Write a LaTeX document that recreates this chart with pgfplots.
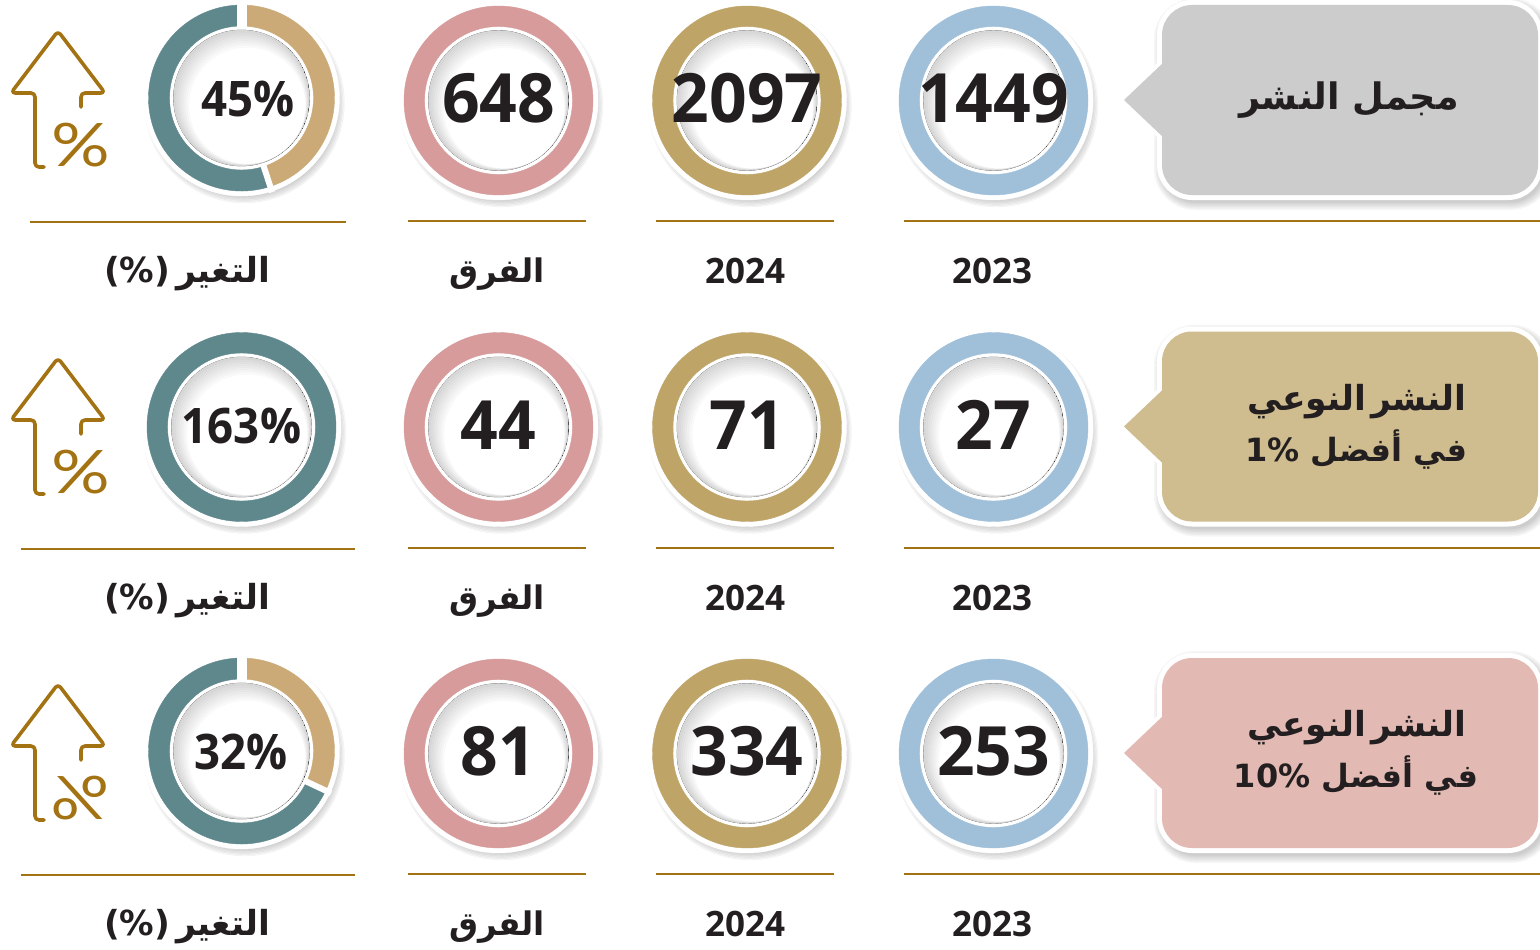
\documentclass[border=0pt]{standalone}
\usepackage{fontspec}
\usepackage{pgfplots}
\usepackage{pgfplotstable}
\pgfplotsset{compat=1.18}
\TeXXeTstate=1
\setmainfont{Open Sans}
\newfontfamily\arabicfont[Script=Arabic]{DejaVu Sans}
\newfontfamily\thinfont{Lato}

\definecolor{ink}{HTML}{231F20}
\definecolor{rule}{HTML}{A37212}
\definecolor{c2023}{HTML}{A0C0DA}
\definecolor{c2024}{HTML}{BFA468}
\definecolor{cdiff}{HTML}{D79B9B}
\definecolor{cteal}{HTML}{5F888D}
\definecolor{ctan}{HTML}{CBAA78}
\definecolor{boxgrey}{HTML}{CCCCCC}
\definecolor{boxtan}{HTML}{CFBC8F}
\definecolor{boxpink}{HTML}{E3B9B3}

% ring centres and values, one table per column of the graphic
\pgfplotstableread{
x y lbl
993.5 100.5 1449
993.5 427 27
993.5 753.5 253
}\tableA
\pgfplotstableread{
x y lbl
747 100.5 2097
747 427 71
747 753.5 334
}\tableB
\pgfplotstableread{
x y lbl
498.5 100.5 648
498.5 427 44
498.5 753.5 81
}\tableC
\pgfplotstableread{
x y share lx lbl
241.5 98 45 248 45\%
241.5 751 32 241 32\%
}\tableD
\pgfplotstableread{
x y lbl
241.5 427 163\%
}\tableE

\pgfplotstableread{
x y
1162 35
1162 5
1538 5
1538 195
1162 195
1162 35
}\boxbody
\pgfplotstableread{
x y
1164 62
1124 100
1164 138
1164 62
}\boxtip
\pgfplotstableread{
x y
44 167
35 167
35 93
11 93
58 31
105 93
81 93
81 107
}\arrowicon

% soft drop shadow and white rim shared by all rings
\newcommand\ringbase[1]{%
  \foreach \k in {0,1,...,7}{%
    \fill[black,opacity=.03] (3pt,-5pt) circle ({#1+7pt-\k*1.3pt});
  }%
  \fill[white] (0,0) circle ({#1+5pt});
}
\newcommand\ringinner[1]{%
  \begin{scope}
    \clip (0,0) circle ({#1-4pt});
    \fill[white] (0,0) circle ({#1-4pt});
    \foreach \k in {1,2,...,8}{%
      \fill[black,opacity=.018,even odd rule] (0,0) circle ({#1})
        ({\k*.72pt},{-\k*.96pt}) circle ({#1-4pt-\k*1.2pt});
    }%
  \end{scope}
}
\pgfplotsset{
  bare marks/.style={scatter,only marks,mark=*,mark size=0pt,
    scatter/use mapped color={draw=none,fill=none}},
  ring plot/.style={bare marks,
    scatter/@pre marker code/.code={%
      \ringbase{94.5pt}%
      \fill[#1,even odd rule] (0,0) circle (94.5pt) (0,0) circle (74pt);%
      \ringinner{74pt}%
    },
    scatter/@post marker code/.code={},
  },
  split plot/.style={bare marks,
    visualization depends on={\thisrow{share} \as \share},
    scatter/@pre marker code/.code={%
      \pgfmathsetmacro\endang{90-3.6*\share}%
      \ringbase{93pt}%
      \fill[ctan] (90:93pt) arc[start angle=90,end angle=\endang,radius=93pt]
        -- (\endang:72pt) arc[start angle=\endang,end angle=90,radius=72pt] -- cycle;
      \fill[cteal] (\endang:93pt) arc[start angle=\endang,end angle=-270,radius=93pt]
        -- (-270:72pt) arc[start angle=-270,end angle=\endang,radius=72pt] -- cycle;
      \draw[white,line width=10pt] (90:68pt) -- (90:99pt);
      \draw[white,line width=6pt] (\endang:68pt) -- (\endang:99pt);
      \ringinner{72pt}%
    },
    scatter/@post marker code/.code={},
  },
  label plot/.style={draw=none,mark=none,
    point meta=explicit symbolic,
    nodes near coords={\scalebox{#1}[1]{\pgfplotspointmeta}},
    nodes near coords align={center},
  },
  big label/.style={label plot=.97,
    every node near coord/.style={anchor=center,text=ink,inner sep=0pt,
      font=\bfseries\fontsize{68}{68}\selectfont}},
  pct label/.style={label plot=.93,
    every node near coord/.style={anchor=center,text=ink,inner sep=0pt,
      font=\bfseries\fontsize{49}{49}\selectfont}},
}

% callout box at a vertical offset
\newcommand\callout[2]{%
  \pgfplotsinvokeforeach{22,19,16,13,10,7}{%
    \addplot[draw=black,opacity=.035,line width=##1pt,rounded corners=30pt,xshift=3pt,yshift=-4pt]
      table[y expr=\thisrow{y}+#1] {\boxbody};
  }
  \addplot[draw=white,fill=white,line width=10pt,line join=miter,rounded corners=30pt]
    table[y expr=\thisrow{y}+#1] {\boxbody};
  \addplot[draw=white,fill=white,line width=8pt,line join=miter]
    table[y expr=\thisrow{y}+#1] {\boxtip};
  \addplot[draw=none,fill=#2,rounded corners=30pt]
    table[y expr=\thisrow{y}+#1] {\boxbody};
  \addplot[draw=none,fill=#2]
    table[y expr=\thisrow{y}+#1] {\boxtip};
}
\newcommand\arrowrow[1]{%
  \addplot[draw=rule,line width=3.6pt,line join=round,line cap=round,rounded corners=4pt]
    table[y expr=\thisrow{y}+#1] {\arrowicon};
}
\newcommand\iconpct{\scalebox{1.22}[1]{\%}}

\begin{document}
\begin{tikzpicture}
\path[use as bounding box] (0,0) rectangle (1540pt,950pt);
\begin{axis}[
  at={(0,0)},anchor=south west,
  scale only axis,width=1540pt,height=950pt,
  xmin=0,xmax=1540,ymin=0,ymax=950,y dir=reverse,
  hide axis,clip=false,
]
% callouts
\callout{0}{boxgrey}
\callout{326.5}{boxtan}
\callout{653}{boxpink}

% rules
\addplot[draw=rule,line width=2.8pt] coordinates {(904,221) (1540,221)};
\addplot[draw=rule,line width=2.8pt] coordinates {(656,221) (834,221)};
\addplot[draw=rule,line width=2.8pt] coordinates {(408,221) (586,221)};
\addplot[draw=rule,line width=2.8pt] coordinates {(30,222) (346,222)};
\addplot[draw=rule,line width=2.8pt] coordinates {(904,548) (1540,548)};
\addplot[draw=rule,line width=2.8pt] coordinates {(656,548) (834,548)};
\addplot[draw=rule,line width=2.8pt] coordinates {(408,548) (586,548)};
\addplot[draw=rule,line width=2.8pt] coordinates {(21,549) (355,549)};
\addplot[draw=rule,line width=2.8pt] coordinates {(904,874) (1540,874)};
\addplot[draw=rule,line width=2.8pt] coordinates {(656,874) (834,874)};
\addplot[draw=rule,line width=2.8pt] coordinates {(408,874) (586,874)};
\addplot[draw=rule,line width=2.8pt] coordinates {(21,875) (355,875)};

% rings
\addplot[ring plot=c2023] table {\tableA};
\addplot[ring plot=c2024] table {\tableB};
\addplot[ring plot=cdiff] table {\tableC};
\addplot[ring plot=cteal] table {\tableE};
\addplot[split plot] table {\tableD};

% values in the rings
\addplot[big label] table[y expr=\thisrow{y}-2,meta=lbl] {\tableA};
\addplot[big label] table[y expr=\thisrow{y}-2,meta=lbl] {\tableB};
\addplot[big label] table[y expr=\thisrow{y}-2,meta=lbl] {\tableC};
\addplot[pct label] table[y expr=\thisrow{y}-1,meta=lbl] {\tableE};
\addplot[pct label] table[x=lx,y expr=\thisrow{y}+1,meta=lbl] {\tableD};

% arrows
\arrowrow{0}
\arrowrow{327}
\arrowrow{653}
\node[text=rule,font=\thinfont\fontsize{60}{60}\selectfont] at (axis cs:80.5,145) {\iconpct};
\node[text=rule,font=\thinfont\fontsize{60}{60}\selectfont] at (axis cs:80.5,472) {\iconpct};
\node[text=rule,font=\thinfont\fontsize{60}{60}\selectfont] at (axis cs:80.5,798) {\scalebox{-1}[1]{\iconpct}};

% column labels
\pgfplotsinvokeforeach{271,598,924}{
  \node[text=ink,font=\bfseries\fontsize{35}{35}\selectfont] at (axis cs:992,#1) {2023};
  \node[text=ink,font=\bfseries\fontsize{35}{35}\selectfont] at (axis cs:745,#1) {2024};
  \node[text=ink,font=\arabicfont\bfseries\fontsize{32.5}{33}\selectfont] at (axis cs:497,#1+3) {\beginR الفرق\endR};
  \node[text=ink,font=\arabicfont\bfseries\fontsize{34.5}{35}\selectfont] at (axis cs:187,#1+3) {\beginR التغير\hspace{6pt}(\%)\endR};
}

% callout text
\node[text=ink,font=\arabicfont\bfseries\fontsize{36.5}{37}\selectfont] at (axis cs:1349,100) {\beginR مجمل النشر\endR};
\node[text=ink,font=\arabicfont\bfseries\fontsize{34.5}{35}\selectfont] at (axis cs:1357,402) {\beginR النشر\hspace{5pt}النوعي\endR};
\node[text=ink,font=\arabicfont\bfseries\fontsize{32}{32}\selectfont] at (axis cs:1356,450) {\beginR في أفضل \beginL 1\%\endL\endR};
\node[text=ink,font=\arabicfont\bfseries\fontsize{34.5}{35}\selectfont] at (axis cs:1357,728) {\beginR النشر\hspace{5pt}النوعي\endR};
\node[text=ink,font=\arabicfont\bfseries\fontsize{32}{32}\selectfont] at (axis cs:1356,776) {\beginR في أفضل \beginL 10\%\endL\endR};
\end{axis}
\end{tikzpicture}
\end{document}
